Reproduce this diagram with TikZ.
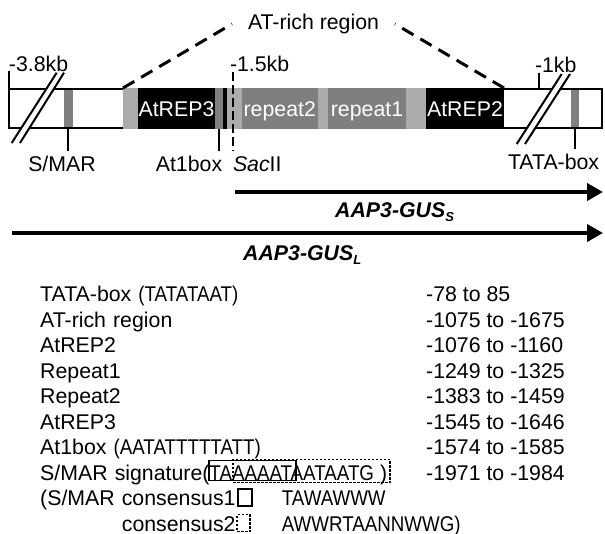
\documentclass[tikz,border=0pt]{standalone}
\usepackage{fontspec}
\setmainfont{Liberation Sans}
\newfontfamily\seqfam[FakeStretch=0.88]{Liberation Sans}
\usepackage{tikz}
\usetikzlibrary{positioning}
\usetikzlibrary{arrows.meta}
\usetikzlibrary{chains}

\definecolor{atlight}{HTML}{ABABAB}
\definecolor{atgray}{HTML}{7F7F7F}
\newcommand{\lblf}{\fontsize{21.3}{25}\selectfont}
\newcommand{\seqf}{\seqfam\fontsize{21.3}{25}\selectfont}
\newcommand{\gussub}[1]{\raisebox{-4pt}{\fontsize{13}{13}\selectfont #1}}

\begin{document}
\begin{tikzpicture}[
    x=1pt, y=-1pt,              % pixel grid, y going down
    ]
% -------------------------------------------------
\tikzset{
  seg/.style={on chain, inner sep=0pt, outer sep=0pt, minimum height=41pt, text height=15.2pt, text depth=0pt, text=white, font=\lblf},
  band/.style={fill=atgray, inner sep=0pt, minimum height=37.5pt},
  lbl/.style={font=\lblf, inner sep=0pt, outer sep=5pt, text height=15.5pt, text depth=4.5pt},
  glbl/.style={font=\lblf\bfseries\itshape, inner sep=0pt},
  row/.style={on chain, font=\lblf, inner sep=0pt, text width=440pt, align=left, text height=16pt, text depth=5pt},
  num/.style={font=\lblf, inner sep=0pt, text height=16pt, text depth=5pt},
  tickline/.style={draw, line width=2pt},
  sacline/.style={draw, line width=2.4pt, dash pattern=on 9pt off 4pt},
  zoomline/.style={draw, line width=3pt, dash pattern=on 13pt off 8pt},
  line/.style={draw, line width=3.8pt, -{Triangle[length=16pt,width=17pt]}},
  sbox/.style={draw, line width=1.2pt, inner sep=0pt},
  dbox/.style={draw, line width=1.2pt, dash pattern=on 2.5pt off 1.5pt, inner sep=0pt}
}

\useasboundingbox (0,0) rectangle (605,533);

% promoter bar
\node [draw, line width=1.8pt, inner sep=0pt, outer sep=0pt, minimum width=593pt, minimum height=39pt] (bar) at (305.5,108.5) {};

% break marks
\fill [white] (11.7,143) -- (56.7,72.7) -- (64,72.7) -- (20,143) -- cycle;
\draw [tickline] (11.7,143) -- (56.7,72.7) (20,143) -- (64,72.7);
\fill [white] (516.7,144) -- (561.7,74) -- (570,74) -- (525,144) -- cycle;
\draw [tickline] (516.7,144) -- (561.7,74) (525,144) -- (570,74);

\node [band, minimum width=8.7pt] (smar) at (68.35,108.5) {};
\node [band, minimum width=8.3pt] (tata) at (574.85,108.5) {};

% AT-rich region
\begin{scope}[start chain=segs going right, node distance=0pt]
\node [seg, fill=atlight, minimum width=15pt, anchor=west] (at0) at (123,108.5) {};
\node [seg, fill=black, minimum width=77pt] (rep3) {AtREP3};
\node [seg, fill=atgray, minimum width=8pt] (at1) {};
\node [seg, fill=black, minimum width=4pt] (at1b) {};
\node [seg, fill=atlight, minimum width=14.5pt] (sacpt) {};
\node [seg, fill=atgray, minimum width=76.5pt] (rpt2) {repeat2};
\node [seg, fill=atlight, minimum width=10pt] (at2) {};
\node [seg, fill=atgray, minimum width=78pt] (rpt1) {repeat1};
\node [seg, fill=atlight, minimum width=20pt] (at3) {};
\node [seg, fill=black, minimum width=78pt] (rep2) {AtREP2};
\end{scope}

% labels above and below the bar
\node [lbl, anchor=base west] (kb38) at (4,71) {-3.8kb};
\node [lbl, anchor=base west] (kb15) at (225,71) {-1.5kb};
\node [lbl, anchor=base west] (kb1) at (530,72.5) {-1kb};
\node [lbl, inner xsep=16pt, outer sep=0pt, anchor=base] (atlbl) at (313.5,29.5) {AT-rich region};

\node [lbl, anchor=base] (smarlbl) at (62,171) {S/MAR};
\node [lbl, anchor=base] (at1lbl) at (189,171) {At1box};
\node [lbl, anchor=base west] (saclbl) at (228,171) {\textit{Sac}II};
\node [lbl, anchor=base west] (tatalbl) at (503,169) {TATA-box};

\coordinate (kb1pos) at (539,89);
\coordinate (sac) at (233,72);

\path [tickline] (bar.north west) -- (bar.north west |- kb38.base);
\path [tickline] (kb1pos) -- (kb1pos |- kb1.base);
\path [tickline] (smar.south) -- (smar.south |- smarlbl.north);
\path [tickline] (at1.south) -- (at1.south |- at1lbl.north);
\path [tickline] (tata.south) -- (tata.south |- tatalbl.north);
\path [sacline] (sac) -- (sac |- saclbl.north);
\path [zoomline] (at0.north west) -- (atlbl.west);
\path [zoomline] (rep2.north east) -- (atlbl.east);

% constructs
\coordinate (gusS0) at (235,192);
\coordinate (gusS1) at (603,192);
\coordinate (gusL0) at (12,233);
\coordinate (gusL1) at (603,233);
\path [line] (gusS0) -- (gusS1);
\path [line] (gusL0) -- (gusL1);
\node [glbl, anchor=base west] (gusSlbl) at (335,217) {AAP3-GUS\gussub{S}};
\node [glbl, anchor=base west] (gusLlbl) at (243,260) {AAP3-GUS\gussub{L}};

% table
\begin{scope}[start chain=rows going below, node distance=4.1pt]
\node [row, anchor=north west] (tatarow) at (40,285.5) {TATA-box {\seqf(TATATAAT)}};
\node [row] (atrow) {AT-rich region};
\node [row] (rep2row) {AtREP2};
\node [row] (rpt1row) {Repeat1};
\node [row] (rpt2row) {Repeat2};
\node [row] (rep3row) {AtREP3};
\node [row] (at1row) {At1box {\seqf(AATATTTTTATT)}};
\node [row] (sigrow) {S/MAR signature({\seqf TAAAAATAATAATG}\hspace{6pt})};
\node [row] (cons1row) {\makebox[241.7pt][l]{(S/MAR consensus1}{\seqf TAWAWWW}};
\node [row] (cons2row) {\hspace*{81.7pt}\makebox[160pt][l]{consensus2}{\seqf AWWRTAANNWWG)}};
\end{scope}

\node [num, right=386pt of tatarow.west] (tatapos) {-78 to 85};
\node [num, right=386pt of atrow.west] (atpos) {-1075 to -1675};
\node [num, right=386pt of rep2row.west] (rep2pos) {-1076 to -1160};
\node [num, right=386pt of rpt1row.west] (rpt1pos) {-1249 to -1325};
\node [num, right=386pt of rpt2row.west] (rpt2pos) {-1383 to -1459};
\node [num, right=386pt of rep3row.west] (rep3pos) {-1545 to -1646};
\node [num, right=386pt of at1row.west] (at1pos) {-1574 to -1585};
\node [num, right=386pt of sigrow.west] (sigpos) {-1971 to -1984};

\node [sbox, minimum width=87pt, minimum height=20pt] (sigbox) at (252.5,470.5) {};
\node [dbox, minimum width=157pt, minimum height=23pt] (sigdash) at (311.5,471) {};
\node [sbox, minimum width=14pt, minimum height=17pt] (cons1box) at (245,497.5) {};
\node [dbox, minimum width=13pt, minimum height=17pt] (cons2box) at (243.5,523) {};

\end{tikzpicture}
\end{document}
